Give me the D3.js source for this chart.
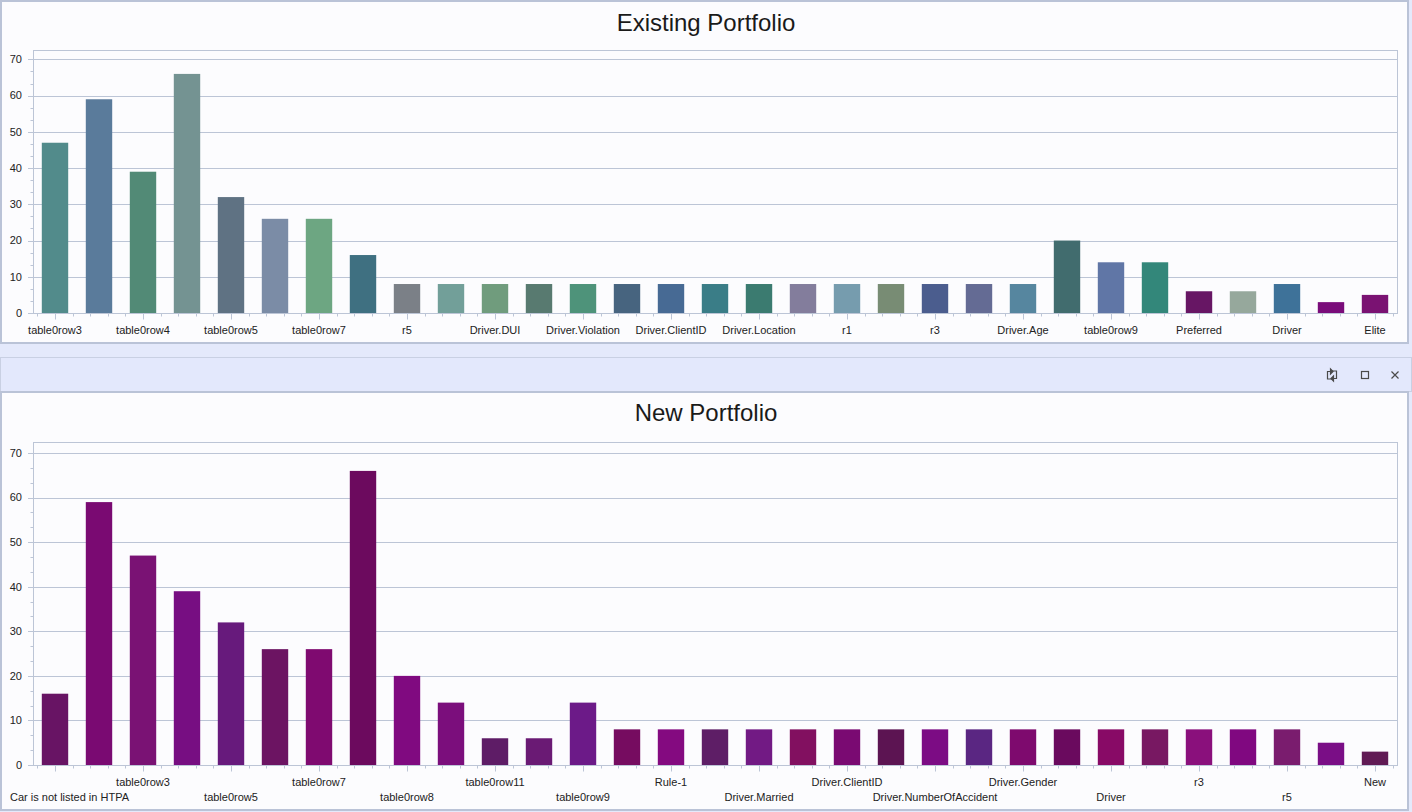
<!DOCTYPE html>
<html>
<head>
<meta charset="utf-8">
<script src="https://cdn.jsdelivr.net/npm/d3@7"></script>
<style>
  html, body { margin: 0; padding: 0; background: #e4e9fb; }
  svg { display: block; }
  text { font-family: "Liberation Sans", Arial, sans-serif; }
</style>
</head>
<body>
<svg id="chart" width="1412" height="812"></svg>
<script>
// ---------- DATA ----------
const existingCategories = [
  "table0row3", "table0row2", "table0row4", "table0row1", "table0row5", "table0row6", "table0row7",
  "Car is not listed in HTPA", "r5", "Rule-1", "Driver.DUI", "Driver.Married", "Driver.Violation",
  "Driver.NumberOfAccident", "Driver.ClientID", "Driver.Gender", "Driver.Location", "r2", "r1", "r4",
  "r3", "Rule-2", "Driver.Age", "table0row8", "table0row9", "table0row10", "Preferred", "table0row11",
  "Driver", "New", "Elite"
];
const existingValues = [47, 59, 39, 66, 32, 26, 26, 16, 8, 8, 8, 8, 8, 8, 8, 8, 8, 8, 8, 8, 8, 8, 8, 20, 14, 14, 6, 6, 8, 3, 5];
const existingColors = [
  "#528b8b", "#5a7b9b", "#528a76", "#749392", "#5f7283", "#7b8ca6", "#6da682", "#3f7081",
  "#7b8087", "#729f99", "#709c7d", "#587a70", "#4e937a", "#47647f", "#476a94", "#3a7d87",
  "#3b7b70", "#837d9c", "#769cae", "#788c74", "#4b5d8e", "#646b94", "#56869f", "#416c6e",
  "#6076a6", "#33877a", "#671664", "#96a89c", "#3e7299", "#7a0c7a", "#7a1272"
];

const newCategories = [
  "Car is not listed in HTPA", "table0row2", "table0row3", "table0row4", "table0row5", "table0row6",
  "table0row7", "table0row1", "table0row8", "table0row10", "table0row11", "Preferred", "table0row9",
  "Driver.DUI", "Rule-1", "Driver.Violation", "Driver.Married", "Driver.Location", "Driver.ClientID",
  "r1", "Driver.NumberOfAccident", "Driver.Age", "Driver.Gender", "r2", "Driver", "r4", "r3",
  "Rule-2", "r5", "Elite", "New"
];
const newValues = [16, 59, 47, 39, 32, 26, 26, 66, 20, 14, 6, 6, 14, 8, 8, 8, 8, 8, 8, 8, 8, 8, 8, 8, 8, 8, 8, 8, 8, 5, 3];
const newColors = [
  "#681464", "#7a0a72", "#7a1274", "#770e82", "#671a7c", "#6c1462", "#7f0a70", "#6c0a5e",
  "#800a80", "#7b0e7c", "#5e1c66", "#6a1a74", "#6c1a88", "#760c60", "#840a80", "#5e1e66",
  "#721a84", "#821060", "#7a0a72", "#5c1452", "#7c0c84", "#5a2682", "#7e0a6e", "#6a0a5e",
  "#880a66", "#781862", "#8a107c", "#800880", "#7a1c6e", "#7a0e86", "#601a54"
];

const yTickValues = [0, 10, 20, 30, 40, 50, 60, 70];

// ---------- DRAW ----------
const svg = d3.select("#chart");
const W = 1412;
const GRID = "#bcc5d6";
const TEXT = "#222222";

// panels
svg.append("rect").attr("x", 1).attr("y", 1).attr("width", 1407).attr("height", 342)
  .attr("fill", "#fcfcfe").attr("stroke", "#bac3d7").attr("stroke-width", 2);
svg.append("rect").attr("x", 0.5).attr("y", 357.5).attr("width", 1411).attr("height", 34)
  .attr("fill", "#e3e8fc").attr("stroke", "#c9d0e3").attr("stroke-width", 1);
svg.append("rect").attr("x", 1).attr("y", 392).attr("width", 1407).attr("height", 418)
  .attr("fill", "#fcfcfe").attr("stroke", "#bac3d7").attr("stroke-width", 2);

// header icons
const icons = svg.append("g").attr("stroke", "#4a4a4a").attr("fill", "none").attr("stroke-width", 1.2);
const ri = icons.append("g").attr("transform", "translate(1332,375)");
ri.append("path").attr("d", "M-1.5,-3.5 H-4.5 V4 H0");
ri.append("path").attr("d", "M1.5,3.5 H4.5 V-4 H0");
ri.append("path").attr("d", "M-1.5,-6 L1,-3.5 L-1.5,-1 Z").attr("fill", "#4a4a4a");
ri.append("path").attr("d", "M1.5,6 L-1,3.5 L1.5,1 Z").attr("fill", "#4a4a4a");
icons.append("rect").attr("x", 1361.5).attr("y", 371.5).attr("width", 7).attr("height", 7);
icons.append("path").attr("d", "M1391.5,371.5 L1398.5,378.5 M1398.5,371.5 L1391.5,378.5");

function drawChart(cfg) {
  const { title, categories, values, colors, top, bottom, titleY, stagger } = cfg;
  const left = 33, right = 1397;
  const x = d3.scaleBand().domain(categories).range([left, right]).paddingInner(0.4).paddingOuter(0.2);
  const y = d3.scaleLinear().domain([0, d3.max(values) * 1.1]).range([bottom, top]);
  const g = svg.append("g");

  g.append("text").attr("x", W / 2).attr("y", titleY).attr("text-anchor", "middle")
    .attr("font-size", 24).attr("fill", "#1a1a1a").text(title);

  // gridlines
  g.append("g").selectAll("line").data(yTickValues.filter(v => v > 0)).join("line")
    .attr("x1", left).attr("x2", right + 1)
    .attr("y1", d => Math.round(y(d)) + 0.5).attr("y2", d => Math.round(y(d)) + 0.5)
    .attr("stroke", GRID).attr("stroke-width", 1);

  // plot box
  g.append("rect").attr("x", left + 0.5).attr("y", Math.round(top) + 0.5)
    .attr("width", right - left).attr("height", Math.round(bottom) - Math.round(top))
    .attr("fill", "none").attr("stroke", GRID);

  // bars
  g.append("g").selectAll("rect").data(categories).join("rect")
    .attr("x", d => x(d)).attr("width", x.bandwidth())
    .attr("y", (d, i) => y(values[i])).attr("height", (d, i) => y(0) - y(values[i]))
    .attr("fill", (d, i) => colors[i]);

  // y axis ticks
  const ya = g.append("g");
  const yMinor = [];
  const yMax = y.domain()[1];
  for (let v = 0; v <= yMax; v += 10) {
    for (let k = 1; k <= 2; k++) { const m = v + k * 10 / 3; if (m < yMax) yMinor.push(m); }
  }
  ya.selectAll(".maj").data(yTickValues).join("line").attr("class", "maj")
    .attr("x1", left - 5).attr("x2", left)
    .attr("y1", d => Math.round(y(d)) + 0.5).attr("y2", d => Math.round(y(d)) + 0.5)
    .attr("stroke", GRID);
  ya.selectAll(".min").data(yMinor).join("line").attr("class", "min")
    .attr("x1", left - 2.5).attr("x2", left)
    .attr("y1", d => Math.round(y(d)) + 0.5).attr("y2", d => Math.round(y(d)) + 0.5)
    .attr("stroke", GRID);
  ya.selectAll("text").data(yTickValues).join("text")
    .attr("x", 22).attr("y", d => y(d)).attr("dy", "0.35em").attr("text-anchor", "end")
    .attr("font-size", 11).attr("fill", TEXT).text(d => d);

  // x axis ticks
  const xa = g.append("g");
  const y0 = Math.round(y(0)) + 0.5;
  const step = x.step();
  const center = d => x(d) + x.bandwidth() / 2;
  const majorCats = categories.filter((d, i) => i % 2 === 0);
  const minorPos = [];
  majorCats.forEach(d => {
    for (let k = -4; k <= 4; k++) {
      if (k === 0) continue;
      const p = center(d) + k * step * 0.4;
      if (p >= left && p <= right && !minorPos.some(q => Math.abs(q - p) < 1)) minorPos.push(p);
    }
  });
  xa.selectAll(".min").data(minorPos).join("line").attr("class", "min")
    .attr("x1", d => Math.round(d) + 0.5).attr("x2", d => Math.round(d) + 0.5)
    .attr("y1", y0).attr("y2", y0 + 3).attr("stroke", GRID);
  xa.selectAll(".maj").data(majorCats).join("line").attr("class", "maj")
    .attr("x1", d => Math.round(center(d)) + 0.5).attr("x2", d => Math.round(center(d)) + 0.5)
    .attr("y1", y0).attr("y2", y0 + 6).attr("stroke", GRID);
  xa.selectAll("text").data(majorCats).join("text")
    .attr("x", d => center(d))
    .attr("y", (d, j) => stagger ? (j % 2 === 0 ? y0 + 35 : y0 + 20) : y0 + 20)
    .attr("text-anchor", "middle").attr("font-size", 11).attr("fill", TEXT)
    .text(d => d)
    .each(function (d) {
      const w = this.getComputedTextLength();
      const cx = center(d);
      if (cx - w / 2 < 10) d3.select(this).attr("x", 10 + w / 2);
      if (cx + w / 2 > 1404) d3.select(this).attr("x", 1404 - w / 2);
    });
}

drawChart({
  title: "Existing Portfolio", categories: existingCategories, values: existingValues,
  colors: existingColors, top: 50, bottom: 313, titleY: 31, stagger: false
});
drawChart({
  title: "New Portfolio", categories: newCategories, values: newValues,
  colors: newColors, top: 441.5, bottom: 765, titleY: 421, stagger: true
});
</script>
</body>
</html>
